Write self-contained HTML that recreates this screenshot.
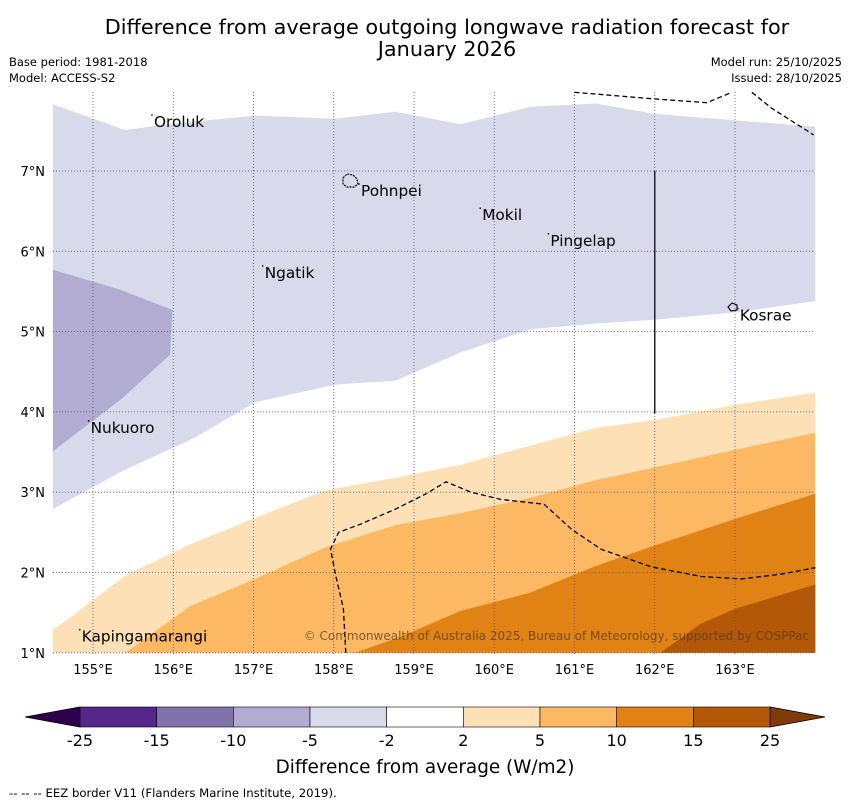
<!DOCTYPE html>
<html><head><meta charset="utf-8"><style>
body{margin:0;background:#fff;}
svg{display:block;font-family:"DejaVu Sans","Liberation Sans",sans-serif;}
</style></head><body>
<svg id="c" width="850" height="804" xmlns="http://www.w3.org/2000/svg">
<text x="447" y="34" font-size="20.8" text-anchor="middle">Difference from average outgoing longwave radiation forecast for</text>
<text x="447" y="56" font-size="20.8" text-anchor="middle">January 2026</text>
<text x="9" y="66" font-size="11.5">Base period: 1981-2018</text>
<text x="9" y="82" font-size="11.5">Model: ACCESS-S2</text>
<text x="842" y="66" font-size="11.5" text-anchor="end">Model run: 25/10/2025</text>
<text x="842" y="82" font-size="11.5" text-anchor="end">Issued: 28/10/2025</text>
<g id="map"></g>
<g id="cbar"></g>
<text x="425" y="773" font-size="18.4" text-anchor="middle">Difference from average (W/m2)</text>
<text x="9" y="797" font-size="11.7">-- -- -- EEZ border V11 (Flanders Marine Institute, 2019).</text>
</svg>
<script>
const lonTicks=[155,156,157,158,159,160,161,162,163];
const latTicks=[1,2,3,4,5,6,7];
const levels=[-25,-15,-10,-5,-2,2,5,10,15,25];
const levelColors=["#542788","#8073ac","#b2abd2","#d8daeb","#ffffff","#fee0b6","#fdb863","#e08214","#b35806"];
const regionMinus5=[[154.5,7.83],[155.4,7.51],[156,7.59],[157.02,7.69],[158.02,7.65],[158.77,7.74],[159.58,7.58],[160.45,7.8],[161.26,7.84],[162.01,7.71],[163.01,7.63],[164,7.55],[164,5.38],[163.01,5.24],[162.01,5.15],[161.26,5.1],[160.45,5.03],[159.58,4.74],[158.77,4.39],[158.02,4.34],[157.02,4.12],[156.27,3.68],[155.34,3.25],[154.5,2.79]];
const regionMinus10=[[154.5,5.77],[155.34,5.52],[155.99,5.27],[155.96,4.71],[155.34,4.15],[154.5,3.51]];
const regionPlus2=[[154.5,1.29],[154.65,1.39],[155.4,1.96],[156.21,2.35],[157.02,2.68],[157.89,3.02],[158.77,3.18],[159.58,3.34],[160.45,3.58],[161.26,3.8],[162.01,3.9],[163.01,4.09],[164,4.24],[164,1],[154.5,1]];
const regionPlus5=[[155.4,1],[156.21,1.58],[157.02,1.92],[157.89,2.31],[158.77,2.59],[159.58,2.74],[160.45,2.93],[161.26,3.15],[162.01,3.31],[163.01,3.53],[164,3.74],[164,1]];
const regionPlus10=[[158.27,1],[158.83,1.2],[159.58,1.52],[160.45,1.75],[161.26,2.08],[162.01,2.34],[163.01,2.67],[164,2.98],[164,1]];
const regionPlus15=[[162.07,1],[162.57,1.36],[163.01,1.55],[164,1.85],[164,1]];
const eezMid=[[158.15,1],[158.12,1.55],[158.02,1.98],[157.96,2.29],[158.06,2.5],[158.33,2.6],[158.77,2.79],[159.15,2.98],[159.4,3.13],[159.71,3.0],[160.08,2.91],[160.62,2.85],[160.96,2.54],[161.33,2.29],[161.96,2.07],[162.58,1.95],[163.08,1.92],[163.58,1.98],[164,2.06]];
const eezTop1=[[161.0,7.98],[161.96,7.9],[162.65,7.85],[162.96,7.98]];
const eezTop2=[[163.21,7.98],[163.46,7.78],[163.98,7.45]];
const islandNames=["Oroluk","Pohnpei","Mokil","Pingelap","Ngatik","Kosrae","Nukuoro","Kapingamarangi"];
const islandLon=[155.76,158.34,159.85,160.7,157.14,163.06,154.97,154.86];
const islandLat=[7.66,6.8,6.5,6.18,5.78,5.25,3.85,1.25];
const X0=53,X1=815,Y0=92,Y1=654;
const xs=lon=>93+(lon-155)*80.25;
const ys=lat=>171-(lat-7)*80.3;
const NS="http://www.w3.org/2000/svg";
function mk(t,a,p){const e=document.createElementNS(NS,t);for(const k in a)e.setAttribute(k,a[k]);p.appendChild(e);return e;}
const map=document.getElementById('map');
const pts=r=>r.map(p=>xs(p[0]).toFixed(1)+","+ys(p[1]).toFixed(1)).join(" ");
const regs=[[regionMinus5,levelColors[3],'region-minus5-to-minus2'],[regionMinus10,levelColors[2],'region-minus10-to-minus5'],[regionPlus2,levelColors[5],'region-2-to-5'],[regionPlus5,levelColors[6],'region-5-to-10'],[regionPlus10,levelColors[7],'region-10-to-15'],[regionPlus15,levelColors[8],'region-15-to-25']];
regs.forEach(r=>{const e=mk('polygon',{points:pts(r[0]),fill:r[1]},map);

});
lonTicks.forEach(l=>{const x=xs(l);const g=mk('line',{x1:x,x2:x,y1:Y0,y2:Y1,stroke:'#55557a','stroke-width':0.8,'stroke-dasharray':'1,2'},map);


const t=mk('text',{x:x,y:674,'font-size':13,'text-anchor':'middle'},map);t.textContent=l+"°E";

});
latTicks.forEach(l=>{const y=ys(l);const g=mk('line',{x1:X0,x2:X1,y1:y,y2:y,stroke:'#55557a','stroke-width':0.8,'stroke-dasharray':'1,2'},map);


const t=mk('text',{x:45,y:y+5,'font-size':13,'text-anchor':'end'},map);t.textContent=l+"°N";

});
[eezMid,eezTop1,eezTop2].forEach(r=>{const e=mk('polyline',{points:pts(r),fill:'none',stroke:'#000','stroke-width':1.3,'stroke-dasharray':'5,3'},map);

});
const vl=mk('line',{x1:xs(162),x2:xs(162),y1:ys(7),y2:ys(3.98),stroke:'#222','stroke-width':1.5},map);


const ip=mk('path',{d:'M343,178 l4,-4 l6,1 l4,4 l1,5 l-4,3 l-7,0 l-4,-3 z',fill:'none',stroke:'#000','stroke-width':1.2,'stroke-dasharray':'2,1'},map);


const ik=mk('path',{d:'M728,307 l4,-4 l5,2 l0,5 l-6,1 z',fill:'none',stroke:'#000','stroke-width':1.1},map);


islandNames.forEach((n,i)=>{const x=xs(islandLon[i]),y=ys(islandLat[i]);
const d=mk('circle',{cx:x-2,cy:y-3,r:0.8,fill:'#000'},map);


const t=mk('text',{x:x,y:y+9,'font-size':15.3},map);t.textContent=n;

});
const cp=mk('text',{x:809,y:640,'font-size':12,'text-anchor':'end',fill:'#5a3a1a','fill-opacity':0.75},map);
cp.textContent="© Commonwealth of Australia 2025, Bureau of Meteorology, supported by COSPPac";


const cb=document.getElementById('cbar');
const CB0=80,CB1=770,CY=707,CH=20,n=levelColors.length,w=(CB1-CB0)/n;
const lt=mk('polygon',{points:`25,${CY+CH/2} ${CB0},${CY} ${CB0},${CY+CH}`,fill:'#2d004b',stroke:'#000','stroke-width':0.8},cb);


const rt=mk('polygon',{points:`825,${CY+CH/2} ${CB1},${CY} ${CB1},${CY+CH}`,fill:'#7f3b08',stroke:'#000','stroke-width':0.8},cb);


levelColors.forEach((c,i)=>{const r=mk('rect',{x:CB0+i*w,y:CY,width:w,height:CH,fill:c,stroke:'#000','stroke-width':0.6},cb);

});
levels.forEach((v,i)=>{const t=mk('text',{x:CB0+i*w,y:CY+CH+19,'font-size':16,'text-anchor':'middle'},cb);t.textContent=v;

});
</script>
</body></html>
